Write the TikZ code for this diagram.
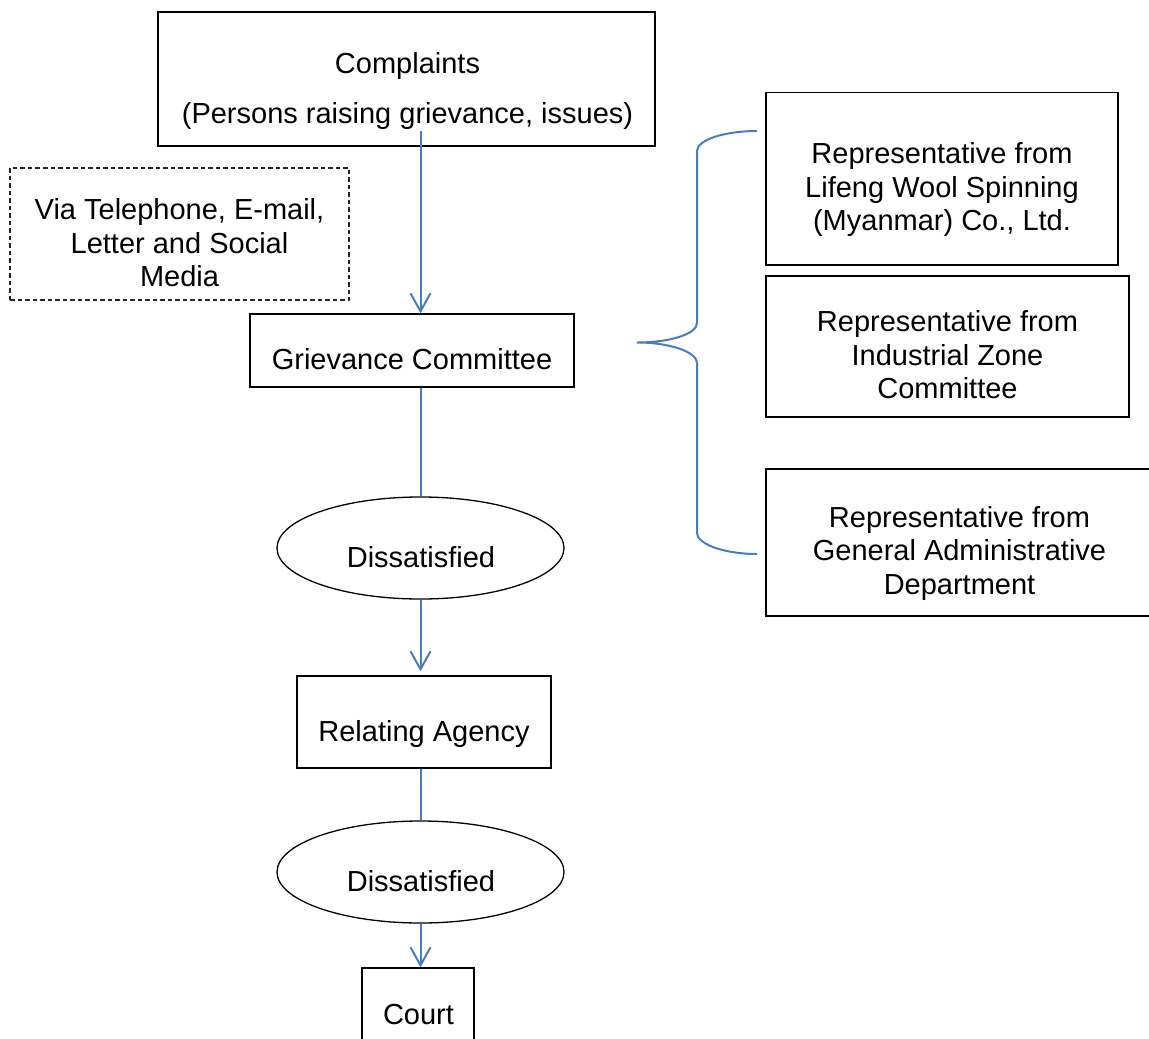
\documentclass[tikz,border=0pt]{standalone}
\usepackage{fontspec}
\setmainfont{Liberation Sans}
\usetikzlibrary{arrows.meta,shapes.geometric,positioning}
\definecolor{linkblue}{HTML}{4A7EBB}
\tikzset{
	box/.style={draw=black,line width=1.3pt,inner sep=0pt},
	viabox/.style={draw=black!85,line width=1.1pt,dash pattern=on 4.5pt off 3pt,inner sep=0pt},
	oval/.style={ellipse,draw=black,line width=1.3pt,inner sep=0pt},
	txt/.style={align=center,inner sep=0pt,font=\fontsize{29}{33.5}\selectfont},
	link/.style={draw=linkblue,line width=2pt},
}

\begin{document}
\begin{tikzpicture}[x=1pt,y=-1pt]
		\useasboundingbox (0,0) rectangle (1149,1039);
		\clip (0,0) rectangle (1149,1039);

		\node[box,minimum width=497pt,minimum height=134pt] (cmp) at (406.5,79) {};
		\node[viabox,minimum width=339pt,minimum height=132pt] (via) at (179.5,234) {};
		\node[box,minimum width=324pt,minimum height=73pt] (grv) at (412,350.5) {};
		\node[oval,minimum width=287pt,minimum height=102pt] (dis1) at (420.5,548) {};
		\node[box,minimum width=254pt,minimum height=92pt] (agy) at (424,722) {};
		\node[oval,minimum width=287pt,minimum height=102pt] (dis2) at (420.5,872) {};
		\node[box,minimum width=112pt,minimum height=94pt] (crt) at (418,1015) {};

		\node[box,minimum width=352pt,minimum height=172.5pt] (rep1) at (942,178.75) {};
		\node[box,minimum width=363pt,minimum height=141pt] (rep2) at (947.5,346.5) {};
		\node[box,minimum width=386pt,minimum height=147pt] (rep3) at (959,542.5) {};

		\begin{scope}[every node/.style={txt}]
			\node (cmpText) at (407.5,90.7) {Complaints\\[16.5pt](Persons raising grievance, issues)};
			\node (viaText) at (179.5,243.1) {Via Telephone, E-mail,\\Letter and Social\\Media};
			\node (grvText) at (412,359.6) {Grievance Committee};
			\node (dis1Text) at (421,557.6) {Dissatisfied};
			\node (agyText) at (424,734.2) {Relating Agency};
			\node (dis2Text) at (421,881.3) {Dissatisfied};
			\node (crtText) at (418.5,1014.6) {Court};

			\node (rep1Text) at (942,189.6) {Representative from\\Lifeng Wool Spinning\\(Myanmar) Co., Ltd.};
			\node (rep2Text) at (947.5,355.1) {Representative from\\Industrial Zone\\Committee};
			\node (rep3Text) at (959.5,553.4) {Representative from\\General Administrative\\Department};
		\end{scope}

		\coordinate (cmpOut) at (420.5,131);
		\coordinate (bTop) at (757,131);
		\coordinate (bTip) at (637,342.5);
		\coordinate (bBot) at (757,554);

		\begin{scope}[>={Straight Barb[length=18pt,width=20pt]}]
			\draw[link,->] (cmpOut) -- (cmpOut |- grv.north);
			\draw[link] (dis1.north |- grv.south) -- (dis1.north);
			\draw[link,->,shorten >=4pt] (dis1.south) -- (dis1.south |- agy.north);
			\draw[link] (dis2.north |- agy.south) -- (dis2.north);
			\draw[link,->] (dis2.south) -- (dis2.south |- crt.north);
		\end{scope}

		\draw[link] (bTop) .. controls (724,131) and (697,140) .. (697,151)
			-- (697,323) .. controls (697,334) and (670,342.5) .. (bTip)
			.. controls (670,342.5) and (697,352) .. (697,363)
			-- (697,533) .. controls (697,544) and (724,554) .. (bBot);
	\end{tikzpicture}
\end{document}
